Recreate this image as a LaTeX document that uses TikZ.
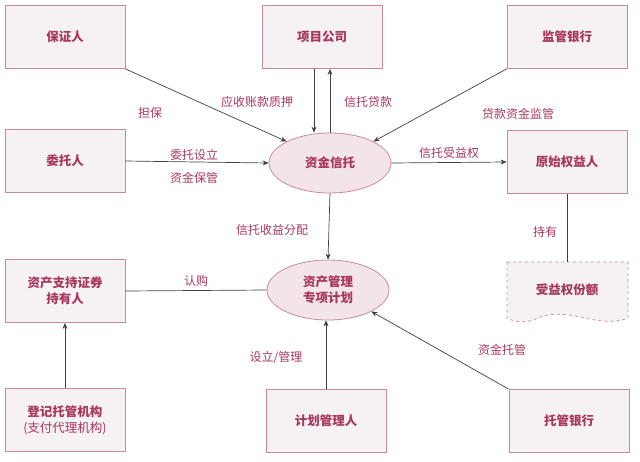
\documentclass[tikz,border=0pt]{standalone}
\usepackage{fontspec}
\setmainfont{Noto Sans CJK SC}
\usetikzlibrary{shapes.geometric,arrows.meta,decorations.pathmorphing}
\definecolor{bd}{HTML}{C98A98}
\definecolor{tx}{HTML}{A8375E}
\definecolor{bf}{HTML}{F6F2F3}
\definecolor{ef}{HTML}{F3E4E9}
\definecolor{ln}{HTML}{404040}
\tikzset{
 box/.style={draw=bd,fill=bf,line width=0.8pt,minimum width=120pt,minimum height=63pt,text=tx,font=\bfseries\fontsize{12.5}{16}\selectfont,align=center,inner sep=0pt},
 ell/.style={ellipse,draw=bd,fill=ef,line width=0.8pt,minimum width=122pt,minimum height=60pt,text=tx,font=\bfseries\fontsize{12.5}{16}\selectfont,align=center,inner sep=0pt},
 lab/.style={text=tx,font=\fontsize{12}{15}\selectfont,align=center},
 arr/.style={draw=ln,line width=0.7pt,-{Stealth[length=6pt,width=5pt]}},
 pl/.style={draw=ln,line width=0.7pt}
}
\begin{document}
\begin{tikzpicture}[x=1pt,y=-1pt]
\useasboundingbox (0,0) rectangle (640,461);
\node[box] (bz) at (65,37) {保证人};
\node[box] (xm) at (322,37) {项目公司};
\node[box] (jg) at (567,37) {监管银行};
\node[box] (wt) at (65,161) {委托人};
\node[ell] (zj) at (330,163) {资金信托};
\node[box] (ys) at (567,162) {原始权益人};
\node[box] (cy) at (65,291) {资产支持证券\\持有人};
\node[ell] (zc) at (328,290) {资产管理\\专项计划};
\fill[bf] (507,262) -- (628,262) -- (628,318) .. controls (598,330) and (568,305) .. (538,318) .. controls (525,324) and (515,322) .. (507,318) -- cycle;
\draw[bd,dashed,line width=0.7pt] (507,262) -- (628,262) -- (628,318) .. controls (598,330) and (568,305) .. (538,318) .. controls (525,324) and (515,322) .. (507,318) -- cycle;
\node[text=tx,font=\bfseries\fontsize{12.5}{16}\selectfont] (sy) at (567,290) {受益权份额};
\coordinate (syt) at (567,262);
\node[box] (dj) at (65,420) {登记托管机构\\\textmd{(支付代理机构)}};
\node[box] (jh) at (326,421) {计划管理人};
\node[box] (tg) at (569,421) {托管银行};
\draw[arr] (bz.south east) -- (zj.north west);
\node[lab] at (150,113) {担保};
\draw[arr] ([xshift=-8pt]xm.south) -- ([xshift=-8pt]xm.south |- zj.north) ;
\node[lab] at (257,102) {应收账款质押};
\draw[arr] ([xshift=8pt]xm.south |- zj.north) -- ([xshift=8pt]xm.south);
\node[lab] at (368,102) {信托贷款};
\draw[arr] (jg.south west) -- (zj.north east);
\node[lab] at (518,114) {贷款资金监管};
\draw[arr] (wt.east) -- (zj.west);
\node[lab] at (194,155) {委托设立};
\node[lab] at (194,178) {资金保管};
\draw[arr] (zj.east) -- (ys.west) node[lab,midway,above] {信托受益权};
\draw[pl] (ys.south) -- (syt);
\node[lab] at (545,232) {持有};
\draw[arr] (zj.south) -- (zc.north);
\node[lab] at (272,230) {信托收益分配};
\draw[pl] (cy.east) -- (zc.west) node[lab,midway,above] {认购};
\draw[arr] (dj.north) -- (cy.south);
\draw[arr] (jh.north) -- (jh.north |- zc.south);
\node[lab] at (276,357) {设立/管理};
\draw[arr] (tg.north west) -- (zc.south east);
\node[lab] at (502,350) {资金托管};
\end{tikzpicture}
\end{document}
